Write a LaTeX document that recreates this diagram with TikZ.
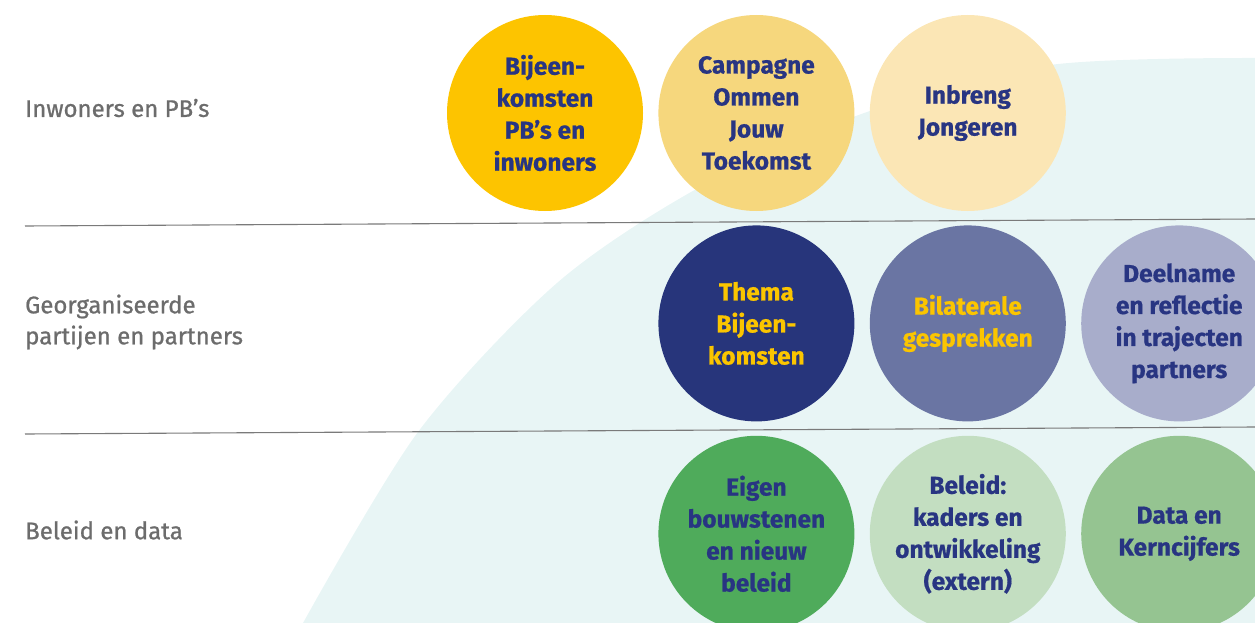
\documentclass[tikz,border=0pt]{standalone}
\usepackage{fontspec}
\setmainfont{Fira Sans}
\newfontfamily\rijfont[FakeBold=0.9]{Fira Sans}
\newfontfamily\bolfont[FakeBold=0.7]{Fira Sans Bold}
\usepackage{xcolor}
\usetikzlibrary{positioning}

\definecolor{inktblauw}{HTML}{283582}
\definecolor{inktgeel}{HTML}{FBC500}
\definecolor{tekstgrijs}{HTML}{6C6C6C}
\definecolor{lijngrijs}{HTML}{7A7A7A}
\definecolor{achtergrond}{HTML}{E8F5F5}
\definecolor{geel1}{HTML}{FDC400}
\definecolor{geel2}{HTML}{F6D77D}
\definecolor{geel3}{HTML}{FBE6B5}
\definecolor{blauw1}{HTML}{27357B}
\definecolor{blauw2}{HTML}{6A75A3}
\definecolor{blauw3}{HTML}{A8ADCB}
\definecolor{groen1}{HTML}{4FAB5B}
\definecolor{groen2}{HTML}{C3DEC1}
\definecolor{groen3}{HTML}{95C491}

\begin{document}
\begin{tikzpicture}[
  x=1pt, y=-1pt,
  bol/.style={circle, minimum size=196pt, inner sep=0pt, align=center, font=\fontsize{24.5}{32}\bolfont, text=inktblauw},
  rij/.style={anchor=west, align=left, inner sep=0pt, font=\fontsize{24}{31}\rijfont, text=tekstgrijs},
  scheiding/.style={draw=lijngrijs, line width=1.1pt},
]
\useasboundingbox (0,0) rectangle (1255,623);
\clip (0,0) rectangle (1255,623);

% Background arc
\fill[achtergrond] plot[smooth] coordinates {(303,623) (418,432) (557,283) (700,187) (867,112) (1050,65) (1255,58)}
  -- (1255,623) -- cycle;

% Separators
\coordinate (l1a) at (25,226);
\coordinate (l1b) at (1255,219);
\coordinate (l2a) at (25,434);
\coordinate (l2b) at (1255,427);
\draw[scheiding] (l1a) -- (l1b);
\draw[scheiding] (l2a) -- (l2b);

% Row labels
\node[rij] (inwoners) at (25,108) {Inwoners en PB’s};
\node[rij] (partijen) at (25,322) {Georganiseerde\\partijen en partners};
\node[rij] (beleid) at (25,530) {Beleid en data};

% Row 1
\node[bol, fill=geel1] (bijeen) at (545,113) {Bijeen-\\komsten\\PB’s en\\inwoners};
\node[bol, fill=geel2, right=15pt of bijeen] (campagne) {Campagne\\Ommen\\Jouw\\Toekomst};
\node[bol, fill=geel3, right=15pt of campagne] (jongeren) {Inbreng\\Jongeren};

% Row 2
\node[bol, fill=blauw1, text=inktgeel, below=14pt of campagne] (thema) {Thema\\Bijeen-\\komsten};
\node[bol, fill=blauw2, text=inktgeel, right=15pt of thema] (bilateraal) {Bilaterale\\gesprekken};
\node[bol, fill=blauw3, right=15pt of bilateraal] (deelname) {Deelname\\en reflectie\\in trajecten\\partners};

% Row 3
\node[bol, fill=groen1, below=14pt of thema] (eigen) {Eigen\\bouwstenen\\en nieuw\\beleid};
\node[bol, fill=groen2, right=15pt of eigen] (kaders) {Beleid:\\kaders en\\ontwikkeling\\(extern)};
\node[bol, fill=groen3, right=15pt of kaders] (data) {Data en\\Kerncijfers};

\end{tikzpicture}
\end{document}
